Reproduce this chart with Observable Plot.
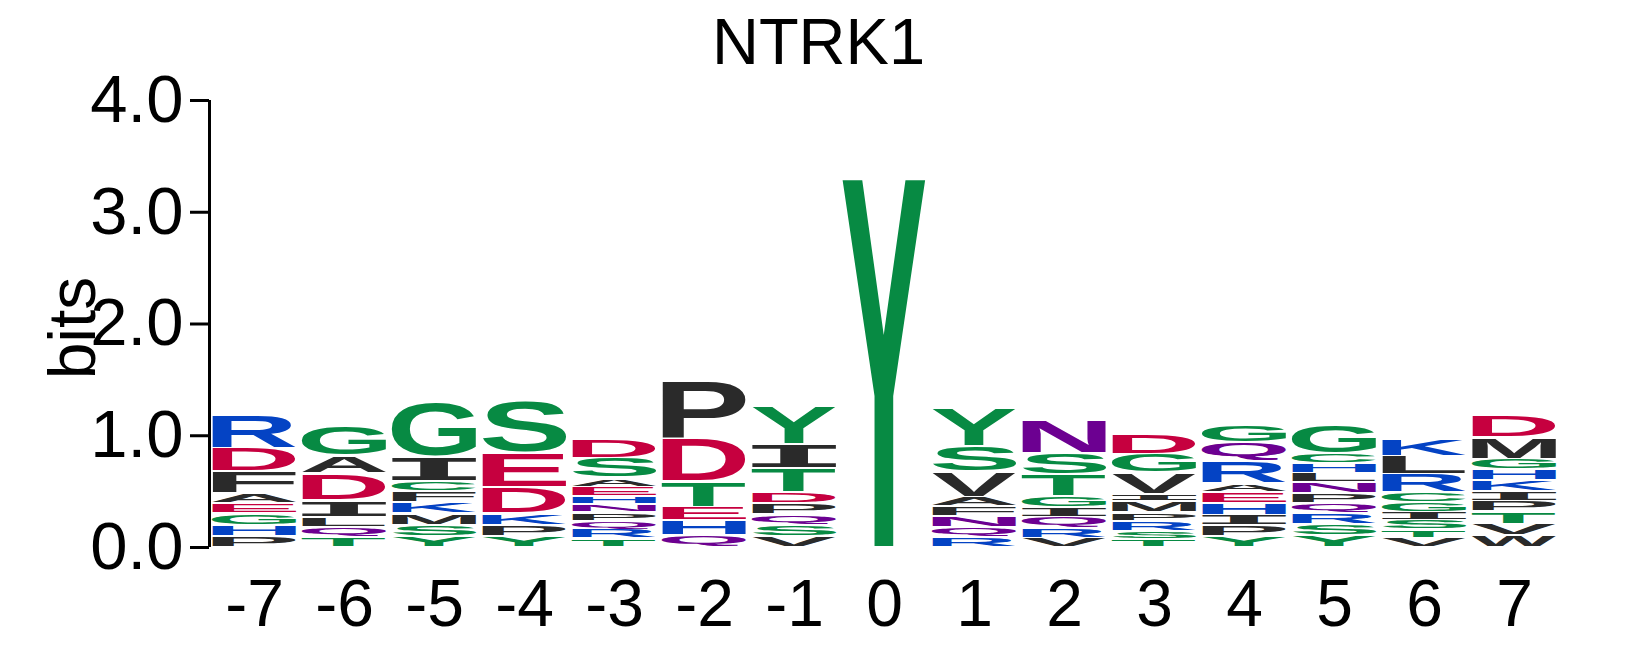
<!DOCTYPE html>
<html>
<head>
<meta charset="utf-8">
<script src="https://cdn.jsdelivr.net/npm/d3@7"></script>
<script src="https://cdn.jsdelivr.net/npm/@observablehq/plot@0.6"></script>
<style>
  body { margin: 0; background: white; }
</style>
</head>
<body>
<div id="chart"></div>
<script>
// positions along the motif
const positions = [-7, -6, -5, -4, -3, -2, -1, 0, 1, 2, 3, 4, 5, 6, 7];
// letters of each column, from the top of the stack down
const letterStacks = ["RDFAEGHP", "GADILQT", "GICFKMSY", "SEDKPY", "DSAEHNPQRT", "PDTEHQ", "YITDPQSV",
  "Y", "YSVAFNQR", "NSTGIQRV", "DGVIMPRST", "GQRAEHIPY", "GCHLNPQRSY", "KLRCGISTV", "DMGHKIPTVW"];
// heights in bits, same order
const letterHeights = [
  [.29, .21, .20, .09, .09, .10, .10, .10],
  [.27, .16, .24, .15, .09, .09, .09],
  [.49, .22, .09, .10, .10, .10, .10, .10],
  [.47, .30, .24, .10, .10, .10],
  [.17, .18, .08, .08, .075, .075, .075, .075, .08, .08],
  [.52, .38, .23, .12, .13, .11],
  [.335, .21, .22, .095, .10, .095, .10, .10],
  [3.30],
  [.34, .225, .225, .085, .09, .095, .09, .09],
  [.30, .19, .20, .10, .085, .10, .085, .085],
  [.18, .17, .19, .065, .10, .08, .085, .075, .07],
  [.155, .17, .20, .08, .095, .105, .095, .095, .10],
  [.25, .09, .09, .08, .095, .09, .09, .095, .10, .11],
  [.16, .16, .16, .09, .09, .07, .085, .08, .08],
  [.20, .19, .095, .095, .095, .09, .095, .11, .105, .105]
];
const yTicks = [0, 1, 2, 3, 4];

const colorOf = l => "GSTYC".includes(l) ? "#078a43"
  : "NQ".includes(l) ? "#6c0091"
  : "KRH".includes(l) ? "#0443c4"
  : "DE".includes(l) ? "#c6003f"
  : "#2a2a2a";

// stack from the bottom up
const glyphs = [];
positions.forEach((p, c) => {
  const ls = letterStacks[c].split("").reverse();
  const hs = letterHeights[c].slice().reverse();
  let y = 0;
  ls.forEach((l, k) => {
    glyphs.push({pos: p, letter: l, y1: y, y2: y + hs[k], color: colorOf(l)});
    y += hs[k];
  });
});

const textFont = "'Liberation Sans', Arial, Helvetica, sans-serif";
// the serifed I comes from a mono face
const fontOf = l => l === "I" ? "'DejaVu Sans Mono', monospace" : textFont;
const ctx = document.createElement("canvas").getContext("2d");
const metrics = {};
for (const l of new Set(glyphs.map(d => d.letter))) {
  ctx.font = `bold 100px ${fontOf(l)}`;
  const m = ctx.measureText(l);
  metrics[l] = {left: m.actualBoundingBoxLeft, right: m.actualBoundingBoxRight,
    ascent: m.actualBoundingBoxAscent, descent: m.actualBoundingBoxDescent};
}

// stretch each letter to fill its box
function glyphRender(index, scales) {
  const g = d3.create("svg:g");
  for (const i of index) {
    const d = glyphs[i];
    const xl = scales.x(d.pos - 0.47), xr = scales.x(d.pos + 0.47);
    const yt = scales.y(d.y2) + 1, yb = scales.y(d.y1) - 1;
    if (yb - yt < 1) continue;
    const m = metrics[d.letter];
    const sx = (xr - xl) / (m.left + m.right);
    const sy = (yb - yt) / (m.ascent + m.descent);
    g.append("text")
      .attr("transform", `translate(${xl},${yt}) scale(${sx},${sy}) translate(${m.left},${m.ascent})`)
      .attr("text-anchor", "start")
      .attr("font-family", fontOf(d.letter))
      .attr("font-weight", "bold")
      .attr("font-size", 100)
      .attr("fill", d.color)
      .text(d.letter);
  }
  return g.node();
}

const chart = Plot.plot({
  width: 1639,
  height: 661,
  marginLeft: 209,
  marginRight: 80,
  marginTop: 100,
  marginBottom: 114,
  style: {
    fontFamily: textFont,
    backgroundColor: "white",
    overflow: "visible",
  },
  x: {domain: [-7.5, 7.5]},
  y: {domain: [0, 4]},
  marks: [
    Plot.text(glyphs, {x: "pos", y: "y2", text: "letter", render: glyphRender}),
    Plot.ruleX([-7.5], {y1: 0, y2: 4, stroke: "black", strokeWidth: 3}),
    Plot.axisY({ticks: yTicks, tickFormat: d3.format(".1f"), tickSize: 19, tickPadding: 7,
      fontSize: 67, strokeWidth: 3, label: null, fill: "black"}),
    Plot.axisX({ticks: positions, tickFormat: d => String(d), tickSize: 0, tickPadding: 32,
      fontSize: 66, label: null, fill: "black"}),
    Plot.text(["bits"], {frameAnchor: "left", textAnchor: "middle", rotate: -90, dx: -136, dy: 4,
      fontSize: 66, fill: "black"}),
    Plot.text(["NTRK1"], {frameAnchor: "top", lineAnchor: "bottom", dx: -66, dy: -37, fontSize: 65, fill: "black"})
  ]
});
d3.select("#chart").append(() => chart);
</script>
</body>
</html>
